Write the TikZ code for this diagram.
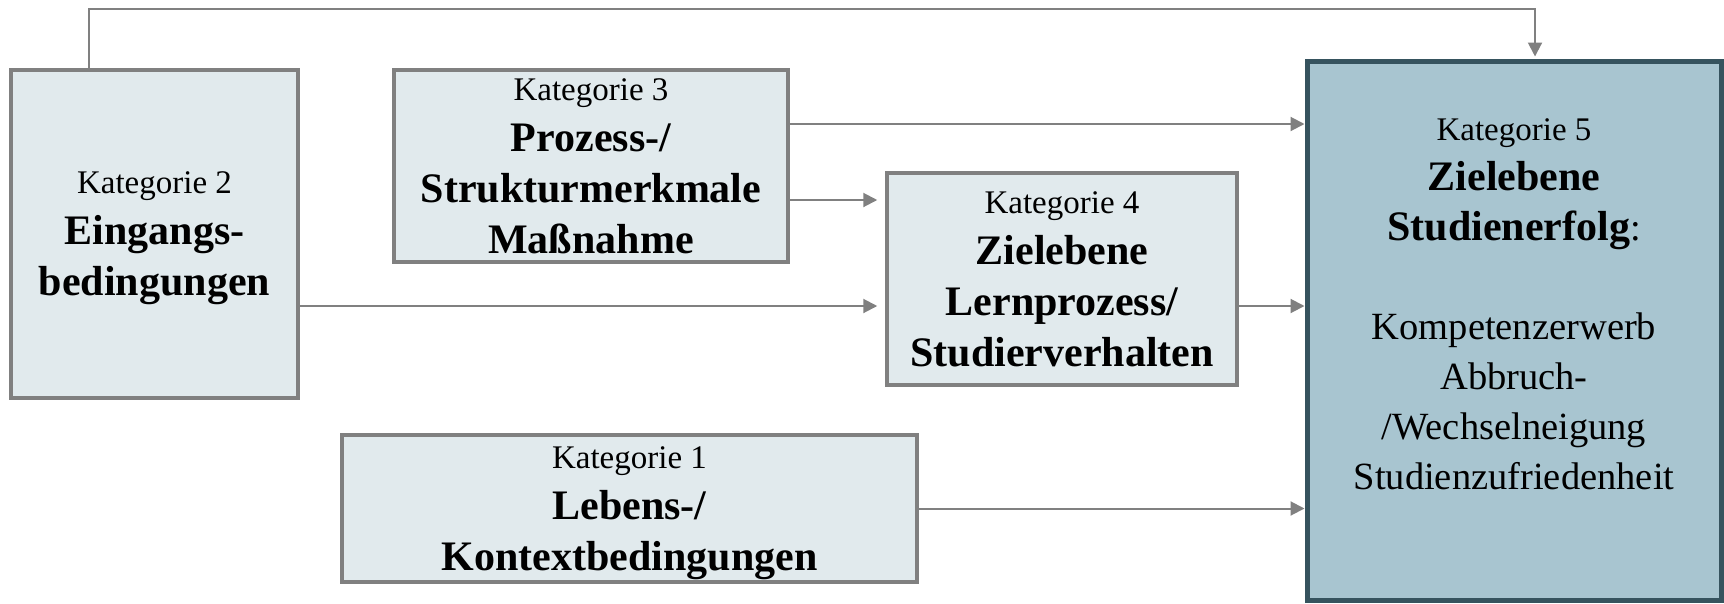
\documentclass[tikz,border=0pt]{standalone}
\usepackage{fontspec}
\setmainfont{Liberation Serif}
\usetikzlibrary{arrows.meta}
\definecolor{boxfill}{HTML}{E1EAED}
\definecolor{boxline}{HTML}{808080}
\definecolor{goalfill}{HTML}{A8C5D0}
\definecolor{goalline}{HTML}{36535E}
\definecolor{arrowgray}{HTML}{808080}
% small regular heading line inside a category box
\newcommand{\katline}[1]{{\fontsize{33}{40}\selectfont\mdseries #1}}
% heading line with extra room above it, pushing the text block down a little
\newcommand{\katlinelow}[1]{{\fontsize{33}{40}\selectfont\mdseries\rule{0pt}{31pt}#1}}
\begin{document}
\begin{tikzpicture}[x=1pt,y=-1pt,
  catbox/.style={draw=boxline, line width=3.5pt, fill=boxfill, inner sep=0pt,
    align=center, font=\fontsize{42}{51}\selectfont\bfseries},
  goalbox/.style={draw=goalline, line width=5pt, fill=goalfill, inner sep=0pt},
  goaltext/.style={align=center, inner sep=0pt, font=\fontsize{38.5}{50}\selectfont},
  link/.style={draw=arrowgray, line width=2pt, -{Triangle[length=14pt,width=14pt]}},
]
\useasboundingbox (0,0) rectangle (1724,603);

% category boxes
\node[catbox, minimum width=287pt, minimum height=328pt] (box2) at (154.5,234)
  {\katlinelow{Kategorie 2}\\Eingangs-\\bedingungen};
\node[catbox, minimum width=394pt, minimum height=192pt] (box3) at (591,166)
  {\katline{Kategorie 3}\\Prozess-/\\Strukturmerkmale\\Maßnahme};
\node[catbox, minimum width=350pt, minimum height=212pt] (box4) at (1062,279)
  {\katline{Kategorie 4}\\Zielebene\\Lernprozess/\\Studierverhalten};
\node[catbox, minimum width=575pt, minimum height=147pt] (box1) at (629.5,508.5)
  {\katlinelow{Kategorie 1}\\Lebens-/\\Kontextbedingungen};

% goal box
\node[goalbox, minimum width=414pt, minimum height=539pt] (box5) at (1514,330.5) {};
\node[goaltext, anchor=north] (goal) at (1514,118)
  {{\fontsize{33}{40}\selectfont Kategorie 5}\\
   \textbf{\fontsize{42}{50}\selectfont Zielebene}\\
   \textbf{\fontsize{42}{50}\selectfont Studienerfolg}:\\[49pt]
   Kompetenzerwerb\\Abbruch-\\/Wechselneigung\\Studienzufriedenheit};

% connector anchor points
\coordinate (p3a) at ([yshift=42pt]box3.east);
\coordinate (p3b) at ([yshift=-34pt]box3.east);
\coordinate (p2)  at ([yshift=-72pt]box2.east);
\coordinate (tl)  at ([xshift=-65.5pt]box2.north);
\coordinate (tr)  at ([xshift=21pt]box5.north);

% connectors
\draw[link] (p3a) -- (p3a -| box5.west);
\draw[link, shorten >=8pt] (p3b) -- (p3b -| box4.west);
\draw[link, shorten >=8pt] (p2) -- (p2 -| box4.west);
\draw[link] (p2 -| box4.east) -- (p2 -| box5.west);
\draw[link] (box1.east) -- (box1.east -| box5.west);
\draw[link] (tl) -- (tl |- 0,9) -- (tr |- 0,9) -- ([yshift=2pt]tr);
\end{tikzpicture}
\end{document}
